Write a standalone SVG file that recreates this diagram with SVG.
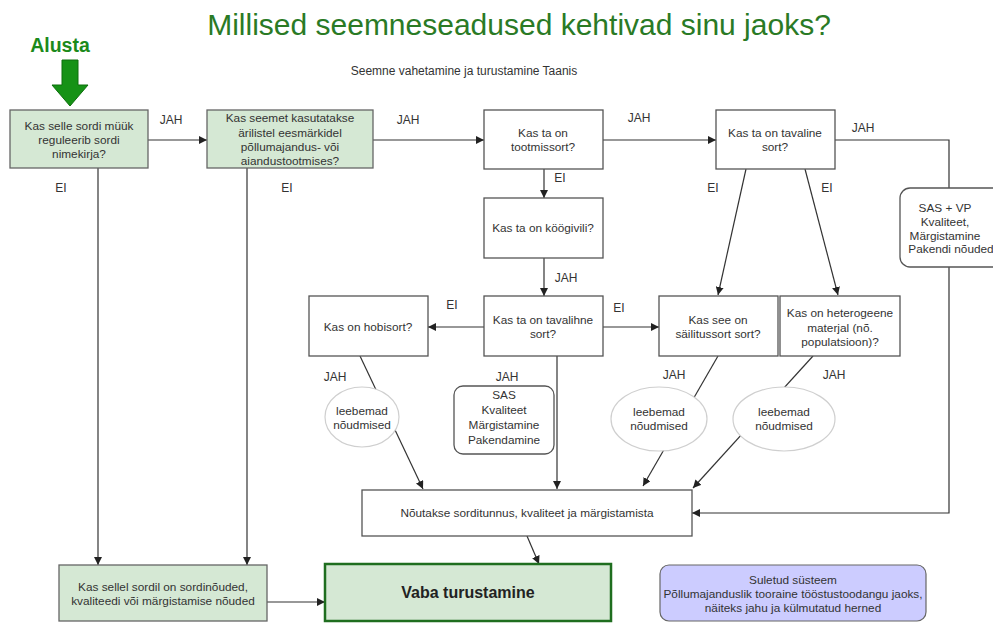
<svg xmlns="http://www.w3.org/2000/svg" width="993" height="623" viewBox="0 0 993 623">
<defs>
<marker id="ah" viewBox="0 0 10 10" refX="10" refY="5" markerWidth="8" markerHeight="8" markerUnits="userSpaceOnUse" orient="auto">
<path d="M0,0 L10,5 L0,10 Z" fill="#222"/>
</marker>
<style>
text{font-family:"Liberation Sans",Arial,sans-serif;fill:#333;font-size:11.8px;text-anchor:middle}
.lbl{font-size:12px}
.box{fill:#fff;stroke:#555;stroke-width:1.3}
.gbox{fill:#d5e8d4;stroke:#666;stroke-width:1.3}
.ell{fill:#fff;stroke:#cfcfcf;stroke-width:1.2}
.rbox{fill:#fff;stroke:#555;stroke-width:1.3}
.ln{fill:none;stroke:#333;stroke-width:1.2}
.arr{fill:none;stroke:#333;stroke-width:1.2;marker-end:url(#ah)}
</style>
</defs>
<rect width="993" height="623" fill="#fff"/>

<text x="519" y="35" style="font-size:30px;fill:#2a7a25">Millised seemneseadused kehtivad sinu jaoks?</text>
<text x="464" y="75" style="font-size:12px">Seemne vahetamine ja turustamine Taanis</text>

<g id="start">
<text x="60" y="52" style="font-size:19.5px;font-weight:bold;fill:#1b8a1b">Alusta</text>
<path d="M62,60 H78 V85 H88 L70,106 L52,85 H62 Z" fill="#169216" stroke="#0d6e0d" stroke-width="1"/>
</g>

<g id="connectors">
<path class="arr" d="M148,140 H207"/>
<path class="arr" d="M373,140 H484"/>
<path class="arr" d="M603,140 H716"/>
<path class="ln" d="M835,140 H949 V188"/>
<path class="arr" d="M949,267 V513 H692"/>
<path class="arr" d="M746,169 L718,295"/>
<path class="arr" d="M805,169 L838,295"/>
<path class="arr" d="M544,169 V198"/>
<path class="arr" d="M544,258 V296"/>
<path class="arr" d="M484,327 H428"/>
<path class="arr" d="M603,327 H659"/>
<path class="arr" d="M360,356 L423,489"/>
<path class="arr" d="M557,356 V489"/>
<path class="arr" d="M718,356 L643,486"/>
<path class="arr" d="M813,356 L693,488"/>
<path class="arr" d="M527,536 L539,564"/>
<path class="arr" d="M98,168 V565"/>
<path class="arr" d="M247,168 V565"/>
<path class="arr" d="M267,602 H325"/>
</g>

<g id="labels">
<text class="lbl" x="171" y="124">JAH</text>
<text class="lbl" x="408" y="124">JAH</text>
<text class="lbl" x="639" y="122">JAH</text>
<text class="lbl" x="863" y="132">JAH</text>
<text class="lbl" x="61" y="192">EI</text>
<text class="lbl" x="287" y="192">EI</text>
<text class="lbl" x="560" y="182">EI</text>
<text class="lbl" x="713" y="192">EI</text>
<text class="lbl" x="827" y="192">EI</text>
<text class="lbl" x="566" y="282">JAH</text>
<text class="lbl" x="452" y="309">EI</text>
<text class="lbl" x="619" y="312">EI</text>
<text class="lbl" x="335" y="381">JAH</text>
<text class="lbl" x="507" y="381">JAH</text>
<text class="lbl" x="674" y="379">JAH</text>
<text class="lbl" x="834" y="379">JAH</text>
</g>

<g id="n1">
<rect class="gbox" x="10" y="110" width="138" height="58"/>
<text x="79" y="130">Kas selle sordi müük</text>
<text x="79" y="144">reguleerib sordi</text>
<text x="79" y="158">nimekirja?</text>
</g>
<g id="n2">
<rect class="gbox" x="207" y="110" width="166" height="58"/>
<text x="290" y="122">Kas seemet kasutatakse</text>
<text x="290" y="137">ärilistel eesmärkidel</text>
<text x="290" y="151">põllumajandus- või</text>
<text x="290" y="165">aiandustootmises?</text>
</g>
<g id="n3">
<rect class="box" x="484" y="110" width="119" height="59"/>
<text x="543" y="137">Kas ta on</text>
<text x="543" y="151">tootmissort?</text>
</g>
<g id="n4">
<rect class="box" x="716" y="110" width="119" height="59"/>
<text x="775" y="137">Kas ta on tavaline</text>
<text x="775" y="151">sort?</text>
</g>
<g id="n-sasvp">
<rect class="rbox" x="900" y="188" width="115" height="79" rx="10"/>
<text x="945" y="212">SAS + VP</text>
<text x="945" y="226">Kvaliteet,</text>
<text x="945" y="240">Märgistamine</text>
<text x="951" y="253">Pakendi nõuded</text>
</g>
<g id="n5">
<rect class="box" x="484" y="198" width="119" height="60"/>
<text x="543" y="232">Kas ta on köögivili?</text>
</g>
<g id="n6">
<rect class="box" x="484" y="296" width="119" height="60"/>
<text x="543" y="324">Kas ta on tavalihne</text>
<text x="543" y="338">sort?</text>
</g>
<g id="n-hobi">
<rect class="box" x="309" y="296" width="119" height="60"/>
<text x="368" y="331">Kas on hobisort?</text>
</g>
<g id="n-sail">
<rect class="box" x="659" y="296" width="119" height="60"/>
<text x="718" y="324">Kas see on</text>
<text x="718" y="338">säilitussort sort?</text>
</g>
<g id="n-het">
<rect class="box" x="780" y="296" width="120" height="60"/>
<text x="840" y="317">Kas on heterogeene</text>
<text x="840" y="332">materjal (nõ.</text>
<text x="840" y="346">populatsioon)?</text>
</g>
<g id="e1">
<ellipse class="ell" cx="362" cy="417" rx="37" ry="30"/>
<text x="362" y="415">leebemad</text>
<text x="362" y="429">nõudmised</text>
</g>
<g id="n-sas">
<rect class="rbox" x="454" y="386" width="100" height="68" rx="9"/>
<text x="504" y="399">SAS</text>
<text x="504" y="414">Kvaliteet</text>
<text x="504" y="429">Märgistamine</text>
<text x="504" y="444">Pakendamine</text>
</g>
<g id="e2">
<ellipse class="ell" cx="659" cy="419" rx="48" ry="32"/>
<text x="659" y="416">leebemad</text>
<text x="659" y="430">nõudmised</text>
</g>
<g id="e3">
<ellipse class="ell" cx="784" cy="419" rx="51" ry="32"/>
<text x="784" y="416">leebemad</text>
<text x="784" y="430">nõudmised</text>
</g>
<g id="n-noutakse">
<rect class="box" x="362" y="490" width="330" height="46"/>
<text x="527" y="517">Nõutakse sorditunnus, kvaliteet ja märgistamista</text>
</g>
<g id="n-kas">
<rect class="gbox" x="59" y="565" width="208" height="56"/>
<text x="163" y="591">Kas sellel sordil on sordinõuded,</text>
<text x="163" y="605">kvaliteedi või märgistamise nõuded</text>
</g>
<g id="n-vaba">
<rect x="325" y="564" width="286" height="57" fill="#d5e8d4" stroke="#1f6e1f" stroke-width="2.5"/>
<text x="468" y="598" style="font-size:16px;font-weight:bold;fill:#222">Vaba turustamine</text>
</g>
<g id="n-suletud">
<rect x="660" y="565" width="266" height="56" rx="9" fill="#ccccff" stroke="#666" stroke-width="1.2"/>
<text x="793" y="584">Suletud süsteem</text>
<text x="793" y="598">Põllumajanduslik tooraine tööstustoodangu jaoks,</text>
<text x="793" y="612">näiteks jahu ja külmutatud herned</text>
</g>
</svg>
